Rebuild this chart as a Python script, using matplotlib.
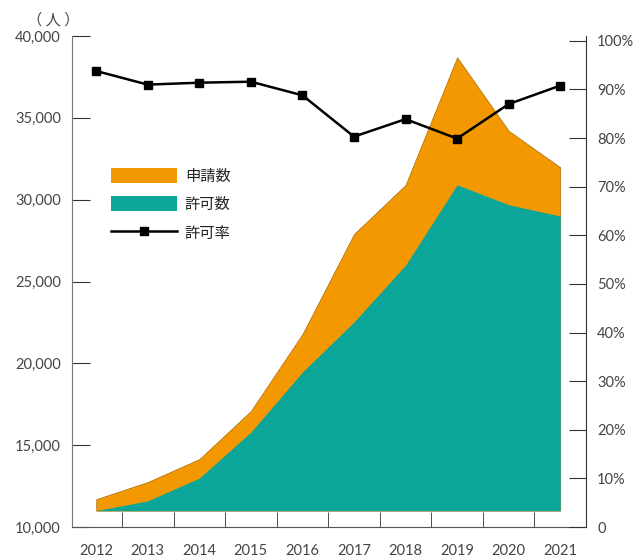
import matplotlib
matplotlib.use('Agg')
import matplotlib.pyplot as plt
import matplotlib.ticker as ticker
from matplotlib.patches import Patch
from matplotlib.lines import Line2D

plt.rcParams['font.family'] = ['Noto Sans CJK JP', 'DejaVu Sans']

years = ['2012', '2013', '2014', '2015', '2016', '2017', '2018', '2019', '2020', '2021']
applications = [11700, 12750, 14150, 17090, 21790, 27900, 30900, 38700, 34210, 31980]
permits = [11000, 11600, 12990, 15800, 19470, 22530, 26000, 30910, 29690, 29000]
permit_rate = [93.8, 91.0, 91.4, 91.6, 88.8, 80.3, 83.9, 79.9, 87.0, 90.8]
base = 11000

orange = '#f39800'
teal = '#0ca59a'
txt = '#444444'
numfont = ['Lato', 'DejaVu Sans']
x = list(range(len(years)))

fig = plt.figure(figsize=(6.4, 5.6), dpi=100)
ax = fig.add_axes([0.1125, 0.0589, 0.8031, 0.8768])

ax.fill_between(x, base, applications, color=orange, edgecolor='#a86a00', linewidth=0.5)
ax.fill_between(x, base, permits, color=teal, linewidth=0)

ax.set_xlim(-0.47, 9.5)
ax.set_ylim(10000, 40000)
ax.set_yticks(range(10000, 40001, 5000))
ax.yaxis.set_major_formatter(ticker.FuncFormatter(lambda v, p: '{:,}'.format(int(v))))
ax.set_xticks(x)
ax.set_xticklabels(years)
ax.set_xticks([i + 0.5 for i in range(9)], minor=True)
ax.tick_params(axis='x', which='major', length=0, pad=12, labelsize=10.5, labelcolor=txt)
ax.tick_params(axis='x', which='minor', direction='in', length=11, color='#333333')
ax.tick_params(axis='y', direction='in', length=13, color='#333333', labelsize=10.5, labelcolor=txt, pad=8)

for s in ['top', 'right']:
    ax.spines[s].set_visible(False)
ax.spines['left'].set_color('#777777')
ax.spines['bottom'].set_color('#555555')

ax2 = ax.twinx()
ax2.plot(x, permit_rate, color='black', linewidth=1.8, marker='s', markersize=6)
ax2.set_ylim(0, 101)
ax2.set_yticks(range(0, 101, 10))
ax2.yaxis.set_major_formatter(ticker.FuncFormatter(lambda v, p: '0' if v == 0 else '%d%%' % v))
ax2.tick_params(axis='y', direction='in', length=12, color='#333333', labelsize=10.5, labelcolor=txt, pad=8)
for s in ['top', 'left', 'bottom']:
    ax2.spines[s].set_visible(False)
ax2.spines['right'].set_color('#333333')

for lbl in ax.get_xticklabels() + ax.get_yticklabels() + ax2.get_yticklabels():
    lbl.set_family(numfont)

fig.text(0.083, 0.965, '（ 人 ）', ha='center', va='center', fontsize=11, color=txt)

handles = [Patch(facecolor=orange, edgecolor='none'),
           Patch(facecolor=teal, edgecolor='none'),
           Line2D([], [], color='black', linewidth=1.8, marker='s', markersize=6)]
ax2.legend(handles, ['申請数', '許可数', '許可率'], loc='upper left',
           bbox_to_anchor=(0.05, 0.76), frameon=False, fontsize=11,
           handlelength=4.3, handleheight=1.15, handletextpad=0.5, labelspacing=0.75,
           labelcolor='#222222')

fig.savefig('out.png', dpi=100)
